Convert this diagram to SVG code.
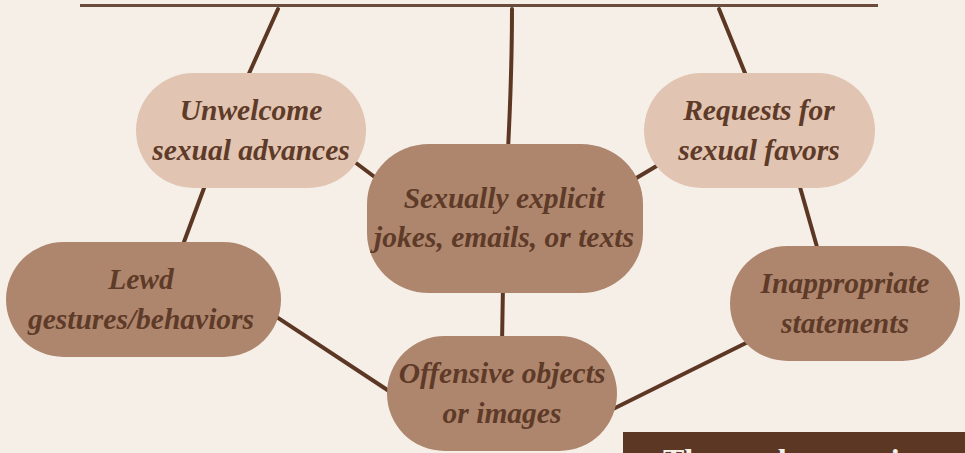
<svg xmlns="http://www.w3.org/2000/svg" width="965" height="453" viewBox="0 0 965 453">
  <style>
    .bg { fill: #f6efe8; }
    .light { fill: #e1c4b1; }
    .dark { fill: #ae866d; }
    .lbl { font-family: "Liberation Serif", "Times New Roman", serif; font-weight: bold; font-style: italic; font-size: 29.5px; fill: #5e3a28; text-anchor: middle; }
    .conn { stroke: #5c3824; stroke-width: 4; stroke-linecap: round; fill: none; }
    .topline { stroke: #6b4b3b; stroke-width: 3; fill: none; }
    .boxtxt { font-family: "Liberation Serif", "Times New Roman", serif; font-weight: bold; font-size: 32px; fill: #f6efe8; }
  </style>
  <rect class="bg" x="0" y="0" width="965" height="453"/>

  <g id="connectors">
    <line class="topline" x1="80" y1="5.5" x2="878" y2="5.5"/>
    <path class="conn" d="M278,9 L247,78"/>
    <path class="conn" d="M512,9 Q512,70 508,150"/>
    <path class="conn" d="M719,9 L747,78"/>
    <path class="conn" d="M207,180 L181,250"/>
    <path class="conn" d="M350,158.5 L384,184"/>
    <path class="conn" d="M665,161 L628,183"/>
    <path class="conn" d="M798,180 L819,254"/>
    <path class="conn" d="M503,285 L502,344"/>
    <path class="conn" d="M270,312.7 L395,395"/>
    <path class="conn" d="M754,339 L607,412"/>
  </g>

  <g id="node-unwelcome">
    <rect class="light" x="136" y="73" width="230" height="115" rx="57.5"/>
    <text class="lbl" x="251" y="120">Unwelcome</text>
    <text class="lbl" x="251" y="159.5">sexual advances</text>
  </g>

  <g id="node-requests">
    <rect class="light" x="644" y="73" width="231" height="115" rx="57.5"/>
    <text class="lbl" x="759" y="120">Requests for</text>
    <text class="lbl" x="759" y="159.5">sexual favors</text>
  </g>

  <g id="node-explicit">
    <rect class="dark" x="367" y="144" width="276" height="149" rx="62" ry="60"/>
    <text class="lbl" x="504" y="208.3">Sexually explicit</text>
    <text class="lbl" x="504" y="247.3">jokes, emails, or texts</text>
  </g>

  <g id="node-lewd">
    <rect class="dark" x="6" y="242" width="275" height="115" rx="57.5"/>
    <text class="lbl" x="141" y="289.3">Lewd</text>
    <text class="lbl" x="141" y="328.5">gestures/behaviors</text>
  </g>

  <g id="node-inappropriate">
    <rect class="dark" x="730" y="246" width="230" height="115" rx="57.5"/>
    <text class="lbl" x="845" y="292.8">Inappropriate</text>
    <text class="lbl" x="845" y="333">statements</text>
  </g>

  <g id="node-offensive">
    <rect class="dark" x="387" y="336" width="230" height="115" rx="57.5"/>
    <text class="lbl" x="502" y="382.8">Offensive objects</text>
    <text class="lbl" x="502" y="422.5">or images</text>
  </g>

  <g id="note-box">
    <rect x="623" y="432" width="342" height="21" fill="#5c3724"/>
    <text class="boxtxt" x="663" y="471">The worker was in</text>
  </g>
</svg>
